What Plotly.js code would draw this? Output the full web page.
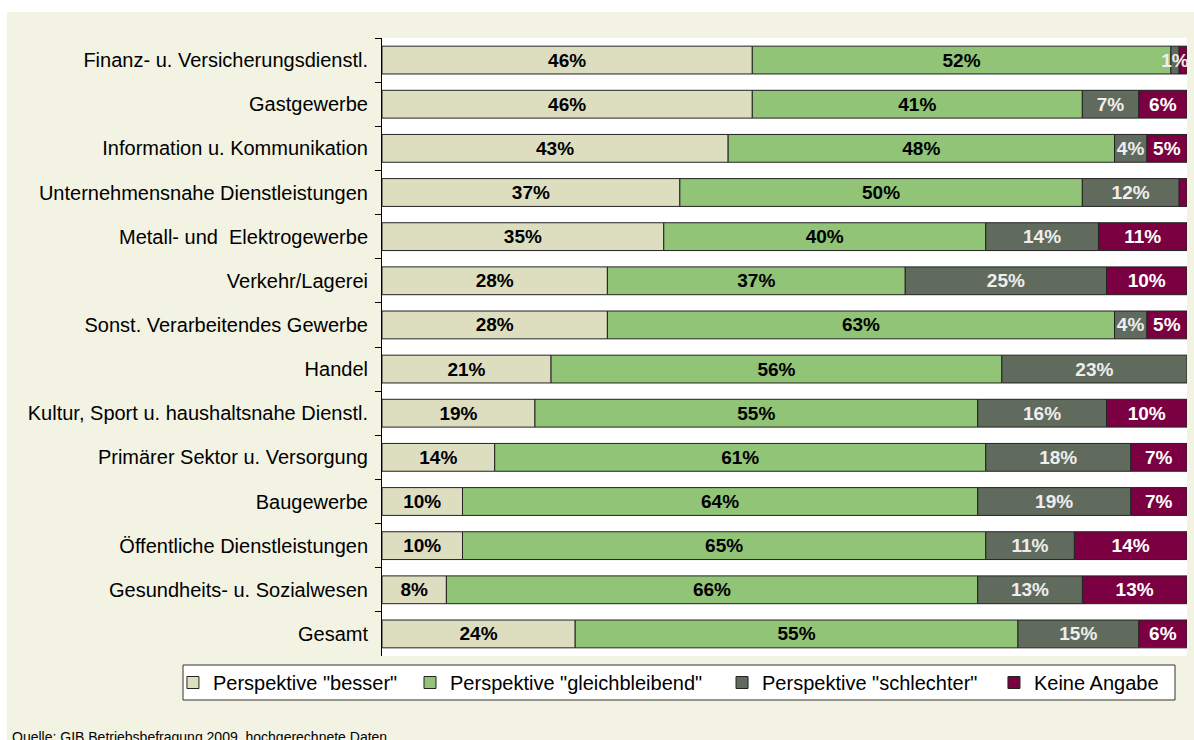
<!DOCTYPE html>
<html><head><meta charset="utf-8">
<script src="https://cdn.plot.ly/plotly-3.0.1.min.js"></script>
<style>
html,body{margin:0;padding:0;background:#ffffff;overflow:hidden;width:1194px;height:740px}
#chart{position:absolute;left:7px;top:12px;width:1187px;height:728px}
</style>
</head><body><div id="chart"></div>
<script>
const categories = [
  "Finanz- u. Versicherungsdienstl.",
  "Gastgewerbe",
  "Information u. Kommunikation",
  "Unternehmensnahe Dienstleistungen",
  "Metall- und  Elektrogewerbe",
  "Verkehr/Lagerei",
  "Sonst. Verarbeitendes Gewerbe",
  "Handel",
  "Kultur, Sport u. haushaltsnahe Dienstl.",
  "Primärer Sektor u. Versorgung",
  "Baugewerbe",
  "Öffentliche Dienstleistungen",
  "Gesundheits- u. Sozialwesen",
  "Gesamt"
];
const besser     = [46, 46, 43, 37, 35, 28, 28, 21, 19, 14, 10, 10,  8, 24];
const gleich     = [52, 41, 48, 50, 40, 37, 63, 56, 55, 61, 64, 65, 66, 55];
const schlechter = [ 1,  7,  4, 12, 14, 25,  4, 23, 16, 18, 19, 11, 13, 15];
const keine      = [ 1,  6,  5,  1, 11, 10,  5,  0, 10,  7,  7, 14, 13,  6];
// segments whose value label is not printed in the original
const keineUnlabelled = ["Finanz- u. Versicherungsdienstl.", "Unternehmensnahe Dienstleistungen", "Handel"];

const seriesNames = ['Perspektive "besser"', 'Perspektive "gleichbleibend"', 'Perspektive "schlechter"', 'Keine Angabe'];
const seriesColors = ['#dddec0', '#91c476', '#616b5d', '#7b0041'];
const labelColors = ['#000000', '#000000', '#eeeeee', '#ffffff'];
const seriesValues = [besser, gleich, schlechter, keine];
// drawing order: "schlechter" last so its small label stays on top
const drawOrder = [0, 1, 3, 2];
const legendIds = ['legend', 'legend2', 'legend3', 'legend4'];
const legendX = [-0.2597, 0.0348, 0.4224, 0.7602];

const FONT = 'Liberation Sans, Arial, sans-serif';

// stacked bases (cumulative sums of the preceding series)
const bases = seriesValues.map((vals, i) =>
  vals.map((_, j) => seriesValues.slice(0, i).reduce((s, arr) => s + arr[j], 0)));

const traces = drawOrder.map(i => ({
  type: 'bar',
  orientation: 'h',
  name: seriesNames[i],
  legend: legendIds[i],
  y: categories,
  x: seriesValues[i],
  base: bases[i],
  text: seriesValues[i].map((v, j) => (i === 3 && keineUnlabelled.includes(categories[j])) ? '' : v + '%'),
  textposition: 'inside',
  insidetextanchor: 'middle',
  textangle: 0,
  constraintext: 'none',
  cliponaxis: false,
  textfont: {family: FONT, size: 19, color: labelColors[i], weight: 700},
  marker: {color: seriesColors[i], line: {color: '#222222', width: 1}},
  hoverinfo: 'x+y+name'
}));

const legendStyle = x => ({
  orientation: 'h',
  x: x, xanchor: 'left',
  y: -0.0429, yanchor: 'middle',
  bgcolor: 'rgba(0,0,0,0)', borderwidth: 0,
  font: {family: FONT, size: 20, color: '#000000'}
});

const layout = {
  width: 1187,
  height: 728,
  paper_bgcolor: '#f3f3e4',
  plot_bgcolor: '#ffffff',
  barmode: 'overlay',
  bargap: 0.37,
  margin: {l: 375, r: 7, t: 26, b: 84, pad: 0},
  font: {family: FONT, size: 20, color: '#000000'},
  xaxis: {range: [0, 100], visible: false, fixedrange: true},
  yaxis: {
    type: 'category',
    autorange: 'reversed',
    showline: true, linecolor: '#000000', linewidth: 1,
    ticks: 'outside', tickson: 'boundaries', ticklen: 6, tickcolor: '#000000', tickwidth: 1,
    ticklabelstandoff: 9,
    showgrid: false, zeroline: false,
    tickfont: {family: FONT, size: 20, color: '#000000'},
    fixedrange: true
  },
  showlegend: true,
  legend: legendStyle(legendX[0]),
  legend2: legendStyle(legendX[1]),
  legend3: legendStyle(legendX[2]),
  legend4: legendStyle(legendX[3]),
  shapes: [{
    type: 'rect', xref: 'paper', yref: 'paper',
    x0: -0.2472, x1: 0.9851, y0: -0.0146, y1: -0.0712,
    fillcolor: '#ffffff', line: {color: '#333333', width: 1}, layer: 'above'
  }],
  annotations: [{
    text: 'Quelle: GIB Betriebsbefragung 2009, hochgerechnete Daten',
    xref: 'paper', yref: 'paper',
    x: -0.4621, xanchor: 'left',
    y: -0.1149, yanchor: 'top',
    showarrow: false,
    font: {family: FONT, size: 14, color: '#000000'}
  }]
};

Plotly.newPlot('chart', traces, layout, {displayModeBar: false, staticPlot: true});
</script>
</body></html>
